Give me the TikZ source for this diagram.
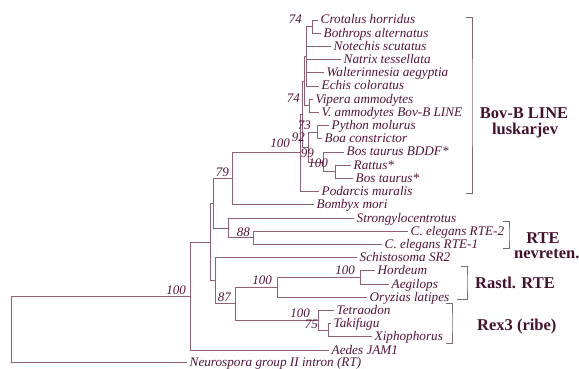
\documentclass[tikz,border=0pt]{standalone}
\usepackage{fontspec}
\setmainfont{Liberation Serif}
\definecolor{linec}{RGB}{145,95,118}
\definecolor{txtc}{RGB}{82,20,58}
\definecolor{grpc}{RGB}{68,18,45}
\definecolor{brkc}{RGB}{125,105,118}
\newcommand\taxfont{\itshape\fontsize{13.2}{14}\selectfont}
\newcommand\bootfont{\itshape\fontsize{13}{14}\selectfont}
\newcommand\grpfont{\bfseries\fontsize{16.5}{18}\selectfont}
\tikzset{
  br/.style={draw=linec, line width=0.8pt},
  brk/.style={draw=brkc, line width=0.8pt},
  taxon/.style={anchor=west, inner xsep=2.5pt, inner ysep=0pt, text height=10pt, text depth=2pt, font=\taxfont, text=txtc},
  boot/.style={anchor=east, inner sep=0pt, font=\bootfont, text=txtc},
  grp/.style={inner sep=0pt, text height=11pt, text depth=0pt, font=\grpfont, text=grpc},
}
\begin{document}
\begin{tikzpicture}[x=1pt,y=-1pt]
\useasboundingbox (0,0) rectangle (579,369);
% ---------- leaves ----------
\node[taxon] (t0)  at (318,20)    {Crotalus horridus};
\node[taxon] (t1)  at (321,33.2)  {Bothrops alternatus};
\node[taxon] (t2)  at (331,46.4)  {Notechis scutatus};
\node[taxon] (t3)  at (341,59.6)  {Natrix tessellata};
\node[taxon] (t4)  at (324,72.8)  {Walterinnesia aegyptia};
\node[taxon] (t5)  at (319,86)    {Echis coloratus};
\node[taxon] (t6)  at (313,99.2)  {Vipera ammodytes};
\node[taxon] (t7)  at (319,112.4) {V. ammodytes Bov-B LINE};
\node[taxon] (t8)  at (329,125.6) {Python molurus};
\node[taxon] (t9)  at (322,138.8) {Boa constrictor};
\node[taxon] (t10) at (344,152)   {Bos taurus BDDF*};
\node[taxon] (t11) at (351,165.2) {Rattus*};
\node[taxon] (t12) at (353,178.4) {Bos taurus*};
\node[taxon] (t13) at (319,191.6) {Podarcis muralis};
\node[taxon] (t14) at (314,204.8) {Bombyx mori};
\node[taxon] (t15) at (354,218)   {Strongylocentrotus};
\node[taxon] (t16) at (408,231.2) {C. elegans RTE-2};
\node[taxon] (t17) at (382,244.4) {C. elegans RTE-1};
\node[taxon] (t18) at (357,257.6) {Schistosoma SR2};
\node[taxon] (t19) at (375,270.8) {Hordeum};
\node[taxon] (t20) at (389,284)   {Aegilops};
\node[taxon] (t21) at (367,297.2) {Oryzias latipes};
\node[taxon] (t22) at (334,310.4) {Tetraodon};
\node[taxon] (t23) at (331,323.6) {Takifugu};
\node[taxon] (t24) at (372,336.8) {Xiphophorus};
\node[taxon] (t25) at (329,350)   {Aedes JAM1};
\node[taxon] (t26) at (187,362)   {Neurospora group II intron (RT)};
% ---------- internal nodes ----------
\coordinate (CB)   at (312,26.6);
\coordinate (SN)   at (306,56.3);
\coordinate (VV)   at (309,105.8);
\coordinate (VP)   at (304,81.05);
\coordinate (PB)   at (317,132.2);
\coordinate (RB)   at (335,171.8);
\coordinate (Mm)   at (323,161.9);
\coordinate (L)    at (308,147.05);
\coordinate (K)    at (302,114.05);
\coordinate (C)    at (300,152.8);
\coordinate (N79)  at (232,178.8);
\coordinate (RTEn) at (253,237.8);
\coordinate (N88)  at (228,227.9);
\coordinate (G1)   at (213,203.35);
\coordinate (HA)   at (360,277.4);
\coordinate (PL)   at (277,287.3);
\coordinate (F75)  at (328,330.2);
\coordinate (FN)   at (318,320.3);
\coordinate (N87)  at (235,303.8);
\coordinate (B)    at (215,280.7);
\coordinate (A)    at (210,242);
\coordinate (N100) at (190,296);
\coordinate (root) at (11,329);
% ---------- branches ----------
\draw[br] (CB) |- (t0.west);  \draw[br] (CB) |- (t1.west);
\draw[br] (SN) |- (CB);
\draw[br] (SN) |- (t2.west);  \draw[br] (SN) |- (t3.west);
\draw[br] (SN) |- (t4.west);  \draw[br] (SN) |- (t5.west);
\draw[br] (VV) |- (t6.west);  \draw[br] (VV) |- (t7.west);
\draw[br] (VP) |- (SN);       \draw[br] (VP) |- (VV);
\draw[br] (PB) |- (t8.west);  \draw[br] (PB) |- (t9.west);
\draw[br] (RB) |- (t11.west); \draw[br] (RB) |- (t12.west);
\draw[br] (Mm) |- (t10.west); \draw[br] (Mm) |- (RB);
\draw[br] (L) |- (PB);        \draw[br] (L) |- (Mm);
\draw[br] (K) |- (VP);        \draw[br] (K) |- (L);
\draw[br] (C) |- (K);         \draw[br] (C) |- (t13.west);
\draw[br] (N79) |- (C);       \draw[br] (N79) |- (t14.west);
\draw[br] (RTEn) |- (t16.west); \draw[br] (RTEn) |- (t17.west);
\draw[br] (N88) |- (t15.west);  \draw[br] (N88) |- (RTEn);
\draw[br] (G1) |- (N79);      \draw[br] (G1) |- (N88);
\draw[br] (HA) |- (t19.west); \draw[br] (HA) |- (t20.west);
\draw[br] (PL) |- (HA);       \draw[br] (PL) |- (t21.west);
\draw[br] (F75) |- (t23.west); \draw[br] (F75) |- (t24.west);
\draw[br] (FN) |- (t22.west); \draw[br] (FN) |- (F75);
\draw[br] (N87) |- (PL);      \draw[br] (N87) |- (FN);
\draw[br] (B) |- (t18.west);  \draw[br] (B) |- (N87);
\draw[br] (A) |- (G1);        \draw[br] (A) |- (B);
\draw[br] (N100) |- (A);      \draw[br] (N100) |- (t25.west);
\draw[br] (root) |- (N100);   \draw[br] (root) |- (t26.west);
% ---------- bootstrap values ----------
\node[boot] (b1)  at (302,19)  {74};
\node[boot] (b2)  at (300,98)  {74};
\node[boot] (b3)  at (311,125) {73};
\node[boot] (b4)  at (305,137) {92};
\node[boot] (b5)  at (290,143) {100};
\node[boot] (b6)  at (314,153) {99};
\node[boot] (b7)  at (328,163) {100};
\node[boot] (b8)  at (229,172) {79};
\node[boot] (b9)  at (250,232) {88};
\node[boot] (b10) at (355,270) {100};
\node[boot] (b11) at (272,280) {100};
\node[boot] (b12) at (231,297) {87};
\node[boot] (b13) at (310,313) {100};
\node[boot] (b14) at (318,324) {75};
\node[boot] (b15) at (186,290) {100};
% ---------- group brackets ----------
\coordinate (bovT) at (466,17);  \coordinate (bovX) at (472,100); \coordinate (bovB) at (466,193);
\draw[brk] (bovT) -| (bovX) |- (bovB);
\coordinate (rteT) at (503,221); \coordinate (rteX) at (509,235); \coordinate (rteB) at (503,248);
\draw[brk] (rteT) -| (rteX) |- (rteB);
\coordinate (rasT) at (461,266); \coordinate (rasX) at (467,282); \coordinate (rasB) at (457,299);
\draw[brk] (rasT) -| (rasX) |- (rasB);
\coordinate (rexT) at (446,303); \coordinate (rexX) at (452,323); \coordinate (rexB) at (446,343);
\draw[brk] (rexT) -| (rexX) |- (rexB);
% ---------- group labels ----------
\node[grp] (g1) at (524,113) {Bov-B LINE};
\node[grp] (g2) at (525,129) {luskarjev};
\node[grp] (g3) at (543,238) {RTE};
\node[grp, anchor=west] (g4) at (514,253) {nevreten.};
\node[grp, anchor=west] (g5) at (475,283) {Rastl. RTE};
\node[grp, anchor=west] (g6) at (477,325) {Rex3 (ribe)};
\end{tikzpicture}
\end{document}
